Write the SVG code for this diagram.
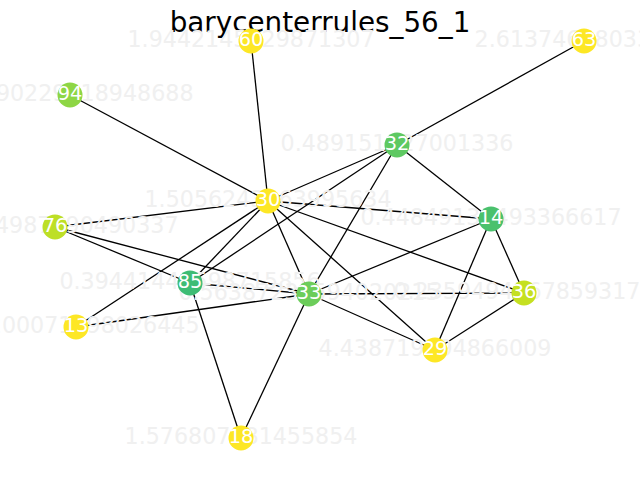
<svg xmlns="http://www.w3.org/2000/svg" width="640" height="480" viewBox="0 0 640 480">
  <style>
    .edge { stroke: #000; stroke-width: 1.3; fill: none; }
    .val { font-family: "DejaVu Sans", sans-serif; font-size: 22.2px; fill: #f0f0f0; text-anchor: middle; }
    .node circle { stroke: none; }
    .node text { font-family: "DejaVu Sans", sans-serif; font-size: 19.4px; fill: #ffffff; text-anchor: middle; }
    .title { font-family: "DejaVu Sans", sans-serif; font-size: 27.8px; fill: #000; text-anchor: middle; }
  </style>
  <rect width="640" height="480" fill="#ffffff"/>
  <text class="title" x="320" y="32">barycenterrules_56_1</text>

  <g id="connectors">
    <line class="edge" x1="251" y1="41" x2="268" y2="201"/>
    <line class="edge" x1="584" y1="41" x2="397" y2="145"/>
    <line class="edge" x1="70" y1="95" x2="268" y2="201"/>
    <line class="edge" x1="397" y1="145" x2="268" y2="201"/>
    <line class="edge" x1="397" y1="145" x2="491" y2="219"/>
    <line class="edge" x1="397" y1="145" x2="190" y2="283"/>
    <line class="edge" x1="397" y1="145" x2="309" y2="294"/>
    <line class="edge" x1="268" y1="201" x2="55" y2="227"/>
    <line class="edge" x1="268" y1="201" x2="491" y2="219"/>
    <line class="edge" x1="268" y1="201" x2="190" y2="283"/>
    <line class="edge" x1="268" y1="201" x2="309" y2="294"/>
    <line class="edge" x1="268" y1="201" x2="524" y2="293"/>
    <line class="edge" x1="268" y1="201" x2="435" y2="350"/>
    <line class="edge" x1="268" y1="201" x2="76" y2="327"/>
    <line class="edge" x1="55" y1="227" x2="190" y2="283"/>
    <line class="edge" x1="55" y1="227" x2="309" y2="294"/>
    <line class="edge" x1="190" y1="283" x2="309" y2="294"/>
    <line class="edge" x1="190" y1="283" x2="241" y2="438"/>
    <line class="edge" x1="309" y1="294" x2="491" y2="219"/>
    <line class="edge" x1="309" y1="294" x2="524" y2="293"/>
    <line class="edge" x1="309" y1="294" x2="435" y2="350"/>
    <line class="edge" x1="309" y1="294" x2="76" y2="327"/>
    <line class="edge" x1="309" y1="294" x2="241" y2="438"/>
    <line class="edge" x1="491" y1="219" x2="435" y2="350"/>
    <line class="edge" x1="491" y1="219" x2="524" y2="293"/>
    <line class="edge" x1="524" y1="293" x2="435" y2="350"/>
  </g>

  <!-- per-node values, drawn under the node discs -->
  <g id="values">
    <text class="val" x="251" y="47">1.9442145029871307</text>
    <text class="val" x="584" y="47">2.61374638033245</text>
    <text class="val" x="70" y="101">1.2390229418948688</text>
    <text class="val" x="397" y="151">0.489151327001336</text>
    <text class="val" x="268" y="207">1.5056243063995634</text>
    <text class="val" x="55" y="233">3.0154987690490337</text>
    <text class="val" x="491" y="225">0.44849131493366617</text>
    <text class="val" x="190" y="289">0.39441448598715856</text>
    <text class="val" x="309" y="300">0.56387234594020215</text>
    <text class="val" x="524" y="299">0.23594943678593173</text>
    <text class="val" x="76" y="333">1.6200071398026445</text>
    <text class="val" x="435" y="356">4.438719294866009</text>
    <text class="val" x="241" y="444">1.576807181455854</text>
  </g>

  <g id="n60" class="node"><circle cx="251" cy="41" r="12.5" fill="#fde725"/><text x="251" y="46.2">60</text></g>
  <g id="n63" class="node"><circle cx="584" cy="41" r="12.5" fill="#fde725"/><text x="584" y="46.2">63</text></g>
  <g id="n94" class="node"><circle cx="70" cy="95" r="12.5" fill="#8ed645"/><text x="70" y="100.2">94</text></g>
  <g id="n32" class="node"><circle cx="397" cy="145" r="12.5" fill="#5ec962"/><text x="397" y="150.2">32</text></g>
  <g id="n30" class="node"><circle cx="268" cy="201" r="12.5" fill="#fde725"/><text x="268" y="206.2">30</text></g>
  <g id="n76" class="node"><circle cx="55" cy="227" r="12.5" fill="#bddf26"/><text x="55" y="232.2">76</text></g>
  <g id="n14" class="node"><circle cx="491" cy="219" r="12.5" fill="#4ac16d"/><text x="491" y="224.2">14</text></g>
  <g id="n85" class="node"><circle cx="190" cy="283" r="12.5" fill="#3dbc74"/><text x="190" y="288.2">85</text></g>
  <g id="n33" class="node"><circle cx="309" cy="294" r="12.5" fill="#6ccd5a"/><text x="309" y="299.2">33</text></g>
  <g id="n36" class="node"><circle cx="524" cy="293" r="12.5" fill="#c5e021"/><text x="524" y="298.2">36</text></g>
  <g id="n13" class="node"><circle cx="76" cy="327" r="12.5" fill="#fde725"/><text x="76" y="332.2">13</text></g>
  <g id="n29" class="node"><circle cx="435" cy="350" r="12.5" fill="#fde725"/><text x="435" y="355.2">29</text></g>
  <g id="n18" class="node"><circle cx="241" cy="438" r="12.5" fill="#fde725"/><text x="241" y="443.2">18</text></g>
</svg>
